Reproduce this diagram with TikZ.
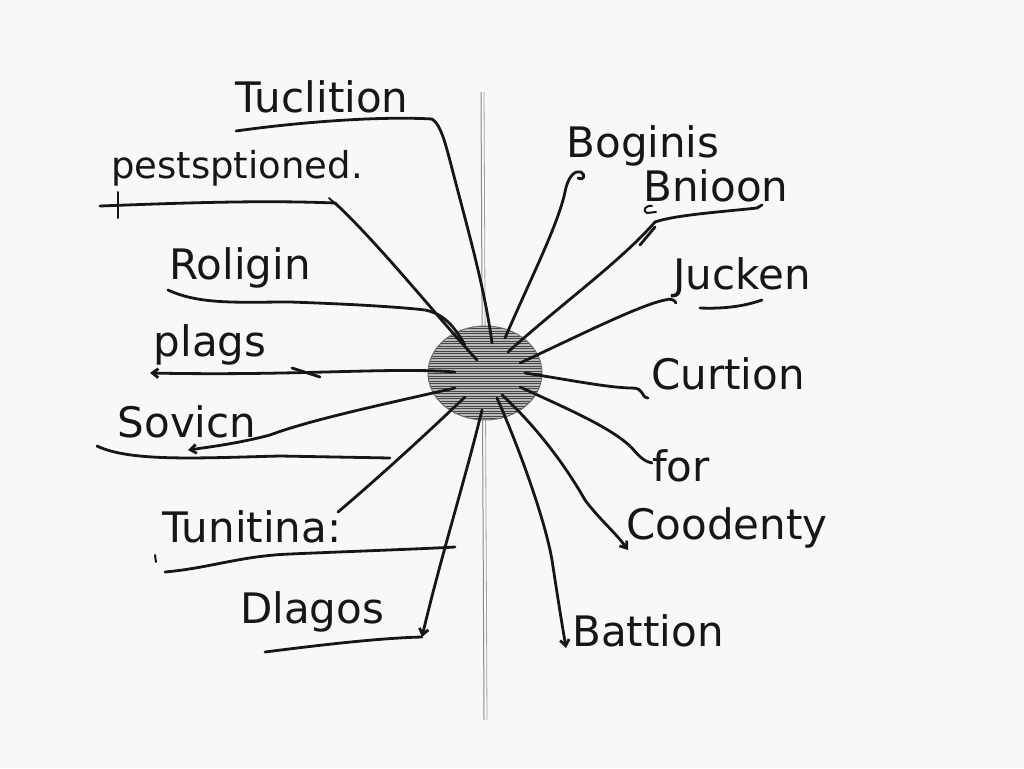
\documentclass[tikz,border=0pt]{standalone}
\usepackage{fontspec}
\setmainfont{DejaVu Sans}
\usetikzlibrary{arrows.meta,shapes.geometric}
\definecolor{paper}{HTML}{F8F8F6}
\definecolor{ink}{HTML}{161616}
\definecolor{axisgray}{HTML}{8A8A8A}
\begin{document}
\begin{tikzpicture}[x=1pt,y=-1pt,
  lbl/.style={font=\fontsize{42}{48}\selectfont, text=ink, inner sep=0pt},
  conn/.style={draw=ink, line width=2.8pt, line cap=round, line join=round},
  tick/.style={draw=ink, line width=2pt, line cap=round},
  tip/.style={-{Straight Barb[length=6pt,width=9pt]}},
  hubstyle/.style={ellipse, minimum width=114pt, minimum height=94pt, inner sep=0pt,
    fill=gray!55, draw=gray!85!black, line width=1pt,
    path picture={\foreach \k in {-48,-45.5,...,48}
      \draw[gray!55!black, line width=0.7pt]
        ([yshift=\k pt]path picture bounding box.west) -- ([yshift=\k pt]path picture bounding box.east);}}
]
\fill[paper] (0,0) rectangle (1024,768);
\useasboundingbox (0,0) rectangle (1024,768);

% vertical axis
\coordinate (axT) at (481,92);
\coordinate (axB) at (484,720);
\draw[axisgray, line width=1pt] (axT) -- (axB);
\draw[axisgray!80, line width=0.8pt] ([xshift=3pt]axT) -- ([xshift=3pt]axB);

% hub
\node[hubstyle] (hub) at (485,373) {};

% ends inside the hub
\coordinate (h1) at (492,343);
\coordinate (h2) at (477,360);
\coordinate (h3) at (465,345);
\coordinate (h4) at (455,372);
\coordinate (h5) at (455,388);
\coordinate (h6) at (465,397);
\coordinate (h7) at (482,410);
\coordinate (h8) at (505,338);
\coordinate (h9) at (508,352);
\coordinate (h10) at (520,363);
\coordinate (h11) at (525,373);
\coordinate (h12) at (520,387);
\coordinate (h13) at (502,395);
\coordinate (h14) at (497,398);

% ---------- left side ----------
% Tuclition
\node[lbl] (tuc) at (322,97) {Tuclition};
\coordinate (tucA) at (236,131);
\coordinate (tucB) at (432,119);
\draw[conn] (tucA) .. controls (300,122) and (380,116) .. (tucB);
\draw[conn] (tucB) .. controls (442,125) and (447,150) .. (455,180) .. controls (468,230) and (485,290) .. (h1);

% pestsptioned.
\node[lbl, font=\fontsize{37}{44}\selectfont] (pes) at (237,168) {pestsptioned.};
\coordinate (pesA) at (100,206);
\coordinate (pesB) at (335,203);
\draw[conn] (pesA) .. controls (180,203) and (260,200) .. (pesB);
\draw[tick] (118,192) -- (118,218);
\draw[tick] (329,198) -- (340,208);
\draw[conn] (pesB) .. controls (380,245) and (440,320) .. (h2);

% Roligin
\node[lbl] (rol) at (240,268) {Roligin};
\coordinate (rolA) at (168,290);
\draw[conn] (rolA) .. controls (200,305) and (240,302) .. (290,302) .. controls (350,304) and (400,307) .. (425,310) .. controls (445,314) and (455,328) .. (h3);

% plags
\node[lbl] (pla) at (210,345) {plags};
\coordinate (plaA) at (150,373);
\draw[conn, tip] (h4) .. controls (390,367) and (300,376) .. (plaA);
\draw[conn] (292,368) -- (320,377);

% Sovicn
\node[lbl] (sov) at (187,422) {Sovicn};
\coordinate (sovA) at (188,450);
\draw[conn, tip] (h5) .. controls (380,405) and (310,420) .. (270,435) .. controls (240,443) and (210,447) .. (sovA);
\coordinate (sovU1) at (97,446);
\coordinate (sovU2) at (390,458);
\draw[conn] (sovU1) .. controls (130,462) and (200,458) .. (280,456) -- (sovU2);

% Tunitina:
\node[lbl] (tun) at (252,527) {Tunitina:};
\coordinate (tunA) at (338,512);
\draw[conn] (h6) .. controls (420,440) and (370,485) .. (tunA);
\coordinate (tunU1) at (165,572);
\coordinate (tunU2) at (455,547);
\draw[conn] (tunU1) .. controls (210,568) and (240,556) .. (290,554) .. controls (360,551) and (420,549) .. (tunU2);
\draw[tick] (155,555) -- (156,562);

% Dlagos
\node[lbl] (dla) at (312,612) {Dlagos};
\coordinate (dlaA) at (422,637);
\coordinate (dlaU1) at (265,652);
\draw[conn] (dlaU1) .. controls (320,645) and (380,638) .. (dlaA);
\draw[conn, tip] (h7) .. controls (465,480) and (440,560) .. (dlaA);

% ---------- right side ----------
% Boginis
\node[lbl] (bog) at (643,146) {Boginis};
\coordinate (bogA) at (578,178);
\draw[conn] (h8) .. controls (530,280) and (558,225) .. (565,192) .. controls (568,176) and (575,170) .. (581,172) .. controls (586,175) and (584,181) .. (bogA);

% Bnioon
\node[lbl] (bni) at (716,186) {Bnioon};
\coordinate (bniA) at (762,205);
\draw[conn] (h9) .. controls (560,305) and (620,262) .. (655,222) .. controls (675,215) and (720,212) .. (757,208) -- (bniA);
\draw[conn] (640,245) -- (655,227);
\draw[tick] (652,206) .. controls (645,205) and (642,211) .. (647,213) -- (656,212);

% Jucken
\node[lbl] (juc) at (742,278) {Jucken};
\coordinate (jucA) at (676,303);
\draw[conn] (h10) .. controls (580,335) and (640,305) .. (665,300) .. controls (670,298) and (675,300) .. (jucA);
\draw[conn] (700,308) .. controls (725,309) and (745,306) .. (762,300);

% Curtion
\node[lbl] (cur) at (728,374) {Curtion};
\coordinate (curA) at (648,398);
\draw[conn] (h11) .. controls (570,380) and (610,388) .. (632,388) .. controls (645,388) and (640,397) .. (curA);

% for
\node[lbl] (for) at (681,466) {for};
\coordinate (forA) at (652,463);
\draw[conn] (h12) .. controls (570,410) and (612,428) .. (632,448) .. controls (640,458) and (646,462) .. (forA);

% Coodenty
\node[lbl] (coo) at (727,528) {Coodenty};
\coordinate (cooA) at (628,550);
\draw[conn, tip] (h13) .. controls (540,430) and (568,470) .. (585,500) .. controls (600,520) and (615,532) .. (cooA);

% Battion
\node[lbl] (bat) at (648,631) {Battion};
\coordinate (batA) at (566,648);
\draw[conn, tip] (h14) .. controls (520,450) and (545,520) .. (552,560) .. controls (558,600) and (563,630) .. (batA);
\end{tikzpicture}
\end{document}
